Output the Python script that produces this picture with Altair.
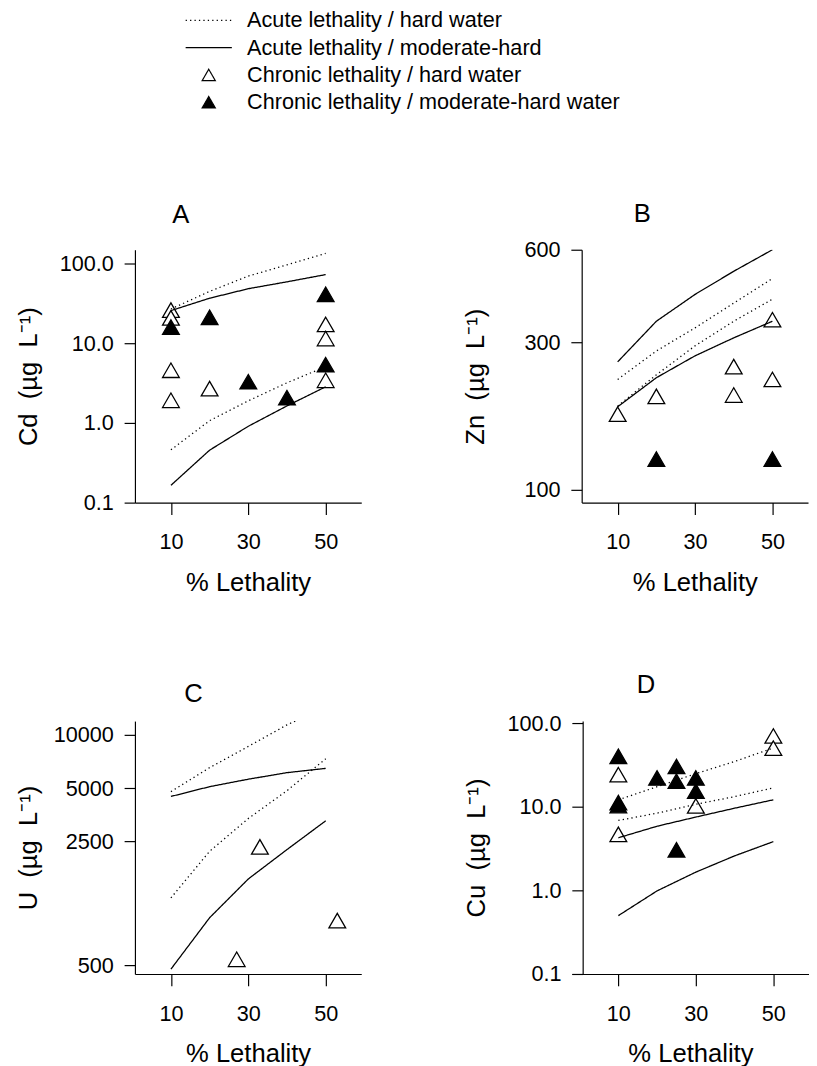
import altair as alt
import pandas as pd

FONT = "Liberation Sans"

S_AH = "Acute lethality / hard water"
S_AM = "Acute lethality / moderate-hard"
S_CH = "Chronic lethality / hard water"
S_CM = "Chronic lethality / moderate-hard water"
SERIES = [S_AH, S_AM, S_CH, S_CM]

pct = [10, 20, 30, 40, 50]

# ---- Panel A : Cd ----
cd_hard_upper = [27, 45, 70, 97, 135]
cd_hard_lower = [0.46, 1.07, 1.9, 3.2, 5.1]
cd_mod_upper = [25.8, 36.9, 48.6, 59.3, 73.1]
cd_mod_lower = [0.165, 0.456, 0.91, 1.64, 2.85]
cd_chr_hard_pct = [10, 10, 10, 10, 20, 50, 50, 50]
cd_chr_hard = [26.2, 20.9, 4.6, 1.93, 2.7, 17.3, 11.5, 3.44]
cd_chr_mod_pct = [10, 20, 30, 40, 50, 50]
cd_chr_mod = [16.0, 21.3, 3.3, 2.08, 41.4, 5.4]

# ---- Panel B : Zn ----
zn_mod_upper = [260, 352, 430, 511, 600]
zn_hard_upper = [228, 282, 335, 403, 484]
zn_hard_lower = [187, 236, 293, 352, 415]
zn_mod_lower = [186, 231, 272, 311, 352]
zn_chr_hard_pct = [10, 20, 40, 40, 50, 50]
zn_chr_hard = [176, 201, 251, 203, 356, 228]
zn_chr_mod_pct = [20, 50]
zn_chr_mod = [126, 126]

# ---- Panel C : U ----
u_hard_upper = [4780, 6530, 8610, 11400, 14300]
u_hard_lower = [1200, 2200, 3370, 4840, 7330]
u_mod_upper = [4490, 5100, 5620, 6120, 6470]
u_mod_lower = [475, 927, 1535, 2250, 3270]
u_chr_hard_pct = [27, 33, 53]
u_chr_hard = [540, 2330, 893]
u_chr_mod_pct = []
u_chr_mod = []

# ---- Panel D : Cu ----
cu_hard_upper = [12.2, 17.5, 25.1, 35.1, 51.0]
cu_hard_lower = [6.9, 8.45, 10.8, 13.3, 17.0]
cu_mod_upper = [4.28, 5.89, 7.58, 9.68, 12.2]
cu_mod_lower = [0.50, 0.99, 1.66, 2.6, 3.85]
cu_chr_hard_pct = [10, 10, 30, 50, 50]
cu_chr_hard = [24.4, 4.7, 10.3, 71, 50.7]
cu_chr_mod_pct = [10, 10, 10, 20, 25, 25, 25, 30, 30]
cu_chr_mod = [40.5, 10.4, 11.3, 22.3, 30.6, 20.4, 3.07, 22.3, 15.5]

LINE_PATH = "M-3.5,0L3.5,0"

H = 257

LEGEND = alt.Legend(
    title=None, orient="none", legendX=64, legendY=-244, padding=0,
    symbolSize=180, symbolStrokeColor="black", symbolStrokeWidth=1.2,
    labelFont=FONT, labelFontSize=22, labelColor="black", labelOffset=28,
    rowPadding=5.7, labelLimit=600,
)


def lines_df(hard_up, hard_lo, mod_up, mod_lo):
    rows = []
    for name, ser, vals in [("hu", S_AH, hard_up), ("hl", S_AH, hard_lo),
                            ("mu", S_AM, mod_up), ("ml", S_AM, mod_lo)]:
        for x, y in zip(pct, vals):
            rows.append({"x": x, "y": y, "series": ser, "curve": name})
    return pd.DataFrame(rows)


def pts_df(hx, hy, mx, my):
    rows = [{"x": x, "y": y, "series": S_CH} for x, y in zip(hx, hy)]
    rows += [{"x": x, "y": y, "series": S_CM} for x, y in zip(mx, my)]
    return pd.DataFrame(rows)


def panel(letter, ytitle, ydomain, yticks, yfmt, ldf, pdf, tdx, toff, extend_x):
    # extend_x: the x axis line reaches left to the end of the y ticks
    if extend_x:
        width, xdom, yoff = 241, [-2.0, 59.2], -11
    else:
        width, xdom, yoff = 230, [0.7, 59.2], 0
    xenc = alt.X("x:Q",
                 scale=alt.Scale(domain=xdom, nice=False, zero=False),
                 axis=alt.Axis(values=[10, 30, 50], title="% Lethality",
                               tickSize=12, labelPadding=18, titlePadding=17,
                               labelFlush=False, grid=False))
    yenc = alt.Y("y:Q",
                 scale=alt.Scale(type="log", domain=ydomain, nice=False),
                 axis=alt.Axis(values=yticks, format=yfmt, title=ytitle,
                               tickSize=11, labelPadding=11, grid=False, offset=yoff,
                               titleX=-108, titleBaseline="middle",
                               labelFlush=False, labelOverlap=False))
    lines = alt.Chart(ldf).mark_line(color="black", strokeWidth=1.3, clip=True).encode(
        x=xenc, y=yenc, detail="curve:N",
        strokeDash=alt.StrokeDash(
            "series:N",
            scale=alt.Scale(domain=SERIES, range=[[1.3, 3.2], [1, 0], [1, 0], [1, 0]]),
            legend=LEGEND),
    )
    pts = alt.Chart(pdf).mark_point(filled=True, strokeWidth=1.3,
                                    size=290, opacity=1).encode(
        x=xenc, y=yenc,
        shape=alt.Shape("series:N",
                        scale=alt.Scale(domain=SERIES,
                                        range=[LINE_PATH, LINE_PATH, "triangle-up", "triangle-up"]),
                        legend=LEGEND),
        fill=alt.Fill("series:N",
                      scale=alt.Scale(domain=SERIES,
                                      range=["transparent", "transparent", "white", "black"]),
                      legend=LEGEND),
        stroke=alt.Stroke("series:N",
                          scale=alt.Scale(domain=SERIES,
                                          range=["black", "black", "black", "black"]),
                          legend=LEGEND),
    )
    return alt.layer(pts, lines).properties(
        width=width, height=H,
        title=alt.TitleParams(text=letter, anchor="start", frame="group", dx=tdx,
                              offset=toff, fontSize=26, font=FONT,
                              fontWeight="normal", color="black"),
    )


pA = panel("A", "Cd\u00a0\u00a0(µg\u00a0\u00a0L\u207b\u00b9)", [0.1, 150], [0.1, 1, 10, 100], ".1f",
           lines_df(cd_hard_upper, cd_hard_lower, cd_mod_upper, cd_mod_lower),
           pts_df(cd_chr_hard_pct, cd_chr_hard, cd_chr_mod_pct, cd_chr_mod), 38, 22, False)
pB = panel("B", "Zn\u00a0\u00a0(µg\u00a0\u00a0L\u207b\u00b9)", [91, 600], [100, 300, 600], "d",
           lines_df(zn_hard_upper, zn_hard_lower, zn_mod_upper, zn_mod_lower),
           pts_df(zn_chr_hard_pct, zn_chr_hard, zn_chr_mod_pct, zn_chr_mod), 53, 12, False)
pC = panel("C", "U\u00a0\u00a0(µg\u00a0\u00a0L\u207b\u00b9)", [446, 11970], [500, 2500, 5000, 10000], "d",
           lines_df(u_hard_upper, u_hard_lower, u_mod_upper, u_mod_lower),
           pts_df(u_chr_hard_pct, u_chr_hard, u_chr_mod_pct, u_chr_mod), 50, 14, False)
pD = panel("D", "Cu\u00a0\u00a0(µg\u00a0\u00a0L\u207b\u00b9)", [0.1, 107], [0.1, 1, 10, 100], ".1f",
           lines_df(cu_hard_upper, cu_hard_lower, cu_mod_upper, cu_mod_lower),
           pts_df(cu_chr_hard_pct, cu_chr_hard, cu_chr_mod_pct, cu_chr_mod), 66, 15, True)

chart = alt.vconcat(
    alt.hconcat(pA, pB, spacing=102),
    alt.hconcat(pC, pD, spacing=103),
    spacing=78,
).properties(
    padding={"left": 7, "top": -7, "right": 0, "bottom": 0},
    background="white",
).configure_view(stroke=None).configure_axis(
    domainColor="black", domainWidth=1.2, tickColor="black", tickWidth=1.2,
    labelFont=FONT, labelFontSize=22, labelColor="black",
    titleFont=FONT, titleFontSize=26, titleFontWeight="normal", titleColor="black",
)

chart.save("out.html", embed_options={"renderer": "svg", "actions": False})
